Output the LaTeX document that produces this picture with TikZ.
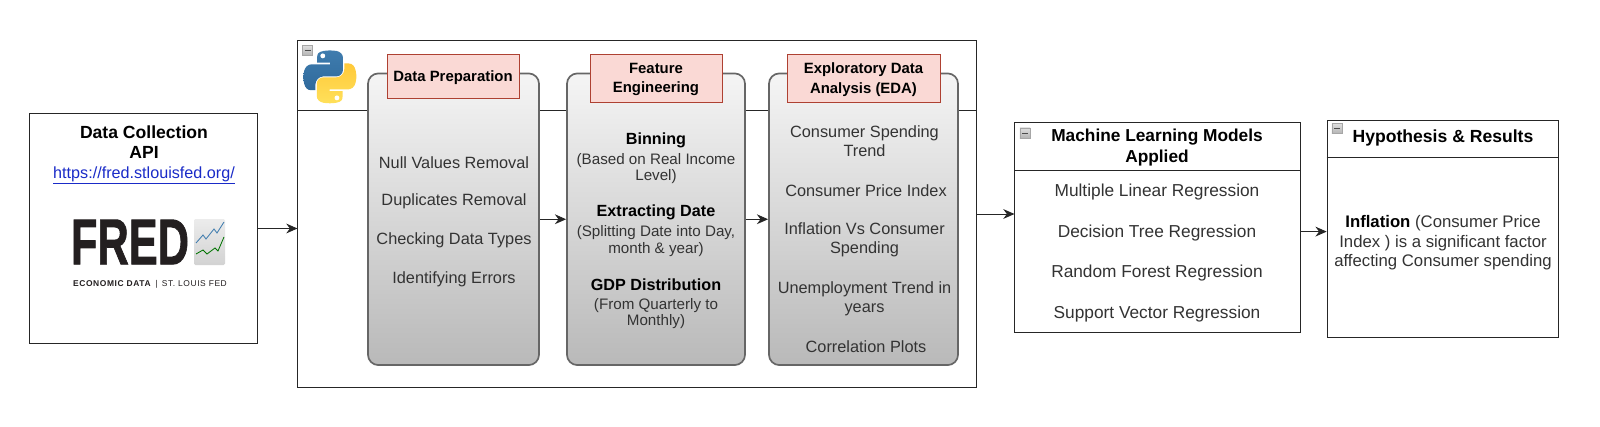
\documentclass[tikz,border=0pt]{standalone}
\usepackage{fontspec}
\setmainfont{Liberation Sans}
\usetikzlibrary{arrows.meta,shadings}
\definecolor{pinkfill}{HTML}{FAD9D5}
\definecolor{pinkline}{HTML}{AE4132}
\definecolor{panelline}{HTML}{666666}
\definecolor{bodytext}{HTML}{333333}
\definecolor{linkblue}{HTML}{1A2BC8}
\definecolor{pyblue}{HTML}{3F7CAE}
\definecolor{pyblued}{HTML}{2F6A9C}
\definecolor{pyyellow}{HTML}{FFE05A}
\definecolor{pyyellowd}{HTML}{FFC93A}
\definecolor{fredblack}{HTML}{231F20}
\newcommand{\pysnake}{(54.9,0.9) .. controls (50.3,0.9) and (45.9,1.3) .. (42.1,2) .. controls (30.9,4) and (28.9,8.1) .. (28.9,15.7) -- (28.9,25.8) -- (55.3,25.8) -- (55.3,29.2) -- (19,29.2) .. controls (11.3,29.2) and (4.6,33.8) .. (2.5,42.5) .. controls (0.1,52.5) and (0,58.7) .. (2.5,69.1) .. controls (4.4,76.9) and (8.8,82.4) .. (16.5,82.4) -- (25.5,82.4) -- (25.5,70.4) .. controls (25.5,61.7) and (33,54) .. (42.1,54) -- (68.5,54) .. controls (75.9,54) and (81.8,47.9) .. (81.8,40.5) -- (81.8,15.7) .. controls (81.8,8.6) and (75.8,3.3) .. (68.5,2) .. controls (64,1.3) and (59.3,0.9) .. (54.9,0.9) -- cycle}
\begin{document}
\begin{tikzpicture}[
  x=0.025cm, y=-0.025cm,
  box/.style={rectangle, draw=black!85, line width=0.7pt, fill=white, inner sep=0pt},
  panel/.style={rectangle, draw=panelline, line width=1.2pt, rounded corners=0.26cm, top color=gray!8, bottom color=gray!55, inner sep=0pt, minimum height=7.29cm},
  tag/.style={rectangle, draw=pinkline, line width=0.6pt, fill=pinkfill, inner sep=0pt, align=center, text depth=0pt, font=\fontsize{10.6}{13.7}\selectfont\bfseries},
  title/.style={align=center, inner sep=0pt, font=\fontsize{12.5}{14.4}\selectfont\bfseries},
  item/.style={align=center, inner sep=0pt, text=bodytext, font=\fontsize{11.6}{13.8}\selectfont},
  note/.style={align=center, inner sep=0pt, text=bodytext, font=\fontsize{10.8}{11.7}\selectfont},
  minus/.style={rectangle, draw=gray!70, line width=0.3pt, top color=gray!25, bottom color=gray!60, minimum size=0.26cm, inner sep=0pt},
  flow/.style={-{Stealth[length=8pt,width=7pt]}, line width=0.7pt, black!85}
]

% Data source
\node[box, minimum width=5.71cm, minimum height=5.725cm] (source) at (143.75,228.5) {};
\node[title] (source_t) at (144,142) {Data Collection\\API};
\node[item, text=linkblue, font=\fontsize{11.5}{13.8}\selectfont] (source_url) at (144,175.5) {\underline{https://fred.stlouisfed.org/}};

% FRED logo
\node[inner sep=0pt, text=fredblack, font=\fontsize{46}{46}\selectfont\bfseries] (fred) at (130,242) {\scalebox{0.67}[1]{\addfontfeatures{FakeBold=1.5}FRED}};
\shade[top color=gray!15, bottom color=gray!35, rounded corners=1pt] (194,219) rectangle (225,265);
\draw[line width=0.6pt, pyblue] (196,243) -- (203,235) -- (206,239) -- (214,229) -- (217,233) -- (224,222);
\draw[line width=0.6pt, green!45!black] (196,254) -- (203,250) -- (207,254) -- (215,248) -- (218,251) -- (224,237);
\node[inner sep=0pt, text=fredblack, font=\fontsize{6}{6}\selectfont] (fred_sub) at (150,284) {\addfontfeatures{LetterSpace=7}\textbf{ECONOMIC DATA}\enspace|\enspace ST. LOUIS FED};

% Python lane
\node[box, minimum width=16.96cm, minimum height=8.65cm] (lane) at (637.25,214) {};
\coordinate (lane_head) at (0,110);
\draw[line width=0.7pt, black!85] (lane.west |- lane_head) -- (lane.east |- lane_head);
\node[minus] (lane_min) at (307.5,50.5) {};
\draw[line width=0.7pt, black!70] (304.5,50.5) -- (310.5,50.5);
\begin{scope}[shift={(303,50)}, x=0.0122cm, y=-0.0122cm]
  \shade[top color=pyblue, bottom color=pyblued] \pysnake;
  \fill[white] (40.5,12) circle (5);
  \begin{scope}[shift={(110,110)}, rotate=180]
    \shade[top color=pyyellowd, bottom color=pyyellow] \pysnake;
    \fill[white] (40.5,12) circle (5);
  \end{scope}
\end{scope}

% Panels
\node[panel, minimum width=4.275cm] (prep) at (453.5,219.25) {};
\node[panel, minimum width=4.45cm] (feat) at (656,219.25) {};
\node[panel, minimum width=4.725cm] (eda) at (863.5,219.25) {};
\node[tag, minimum width=3.3cm, minimum height=1.1cm] (prep_t) at (453,76) {Data Preparation};
\node[tag, minimum width=3.3cm, minimum height=1.2cm] (feat_t) at (656,78) {Feature\\Engineering};
\node[tag, minimum width=3.825cm, minimum height=1.2cm] (eda_t) at (863.5,78) {Exploratory Data\\Analysis (EDA)};

% Data Preparation
\node[item] (prep_a) at (454,162.5) {Null Values Removal};
\node[item] (prep_b) at (454,201.5) {Duplicates Removal};
\node[item] (prep_c) at (454,240.5) {Checking Data Types};
\node[item] (prep_d) at (454,279.5) {Identifying Errors};

% Feature Engineering
\node[title, font=\fontsize{11.5}{14}\selectfont\bfseries] (feat_a) at (656,140) {Binning};
\node[note] (feat_a2) at (656,168.5) {(Based on Real Income\\Level)};
\node[title, font=\fontsize{11.5}{14}\selectfont\bfseries] (feat_b) at (656,212.5) {Extracting Date};
\node[note] (feat_b2) at (656,241) {(Splitting Date into Day,\\month \& year)};
\node[title, font=\fontsize{11.5}{14}\selectfont\bfseries] (feat_c) at (656,284.5) {GDP Distribution};
\node[note] (feat_c2) at (656,313.5) {(From Quarterly to\\Monthly)};

% EDA
\node[item] (eda_a) at (864.5,141) {Consumer Spending\\Trend};
\node[item] (eda_b) at (866,191) {Consumer Price Index};
\node[item] (eda_c) at (864.5,240) {Inflation Vs Consumer\\Spending};
\node[item] (eda_d) at (864.5,299) {Unemployment Trend in\\years};
\node[item] (eda_e) at (866,347) {Correlation Plots};

% Models
\node[box, minimum width=7.125cm, minimum height=5.26cm] (models) at (1157.5,227.75) {};
\coordinate (models_head) at (0,170.6);
\draw[line width=0.7pt, black!85] (models.west |- models_head) -- (models.east |- models_head);
\node[minus] (models_min) at (1025,133) {};
\draw[line width=0.7pt, black!70] (1022,133) -- (1028,133);
\node[title, font=\fontsize{12.3}{14.3}\selectfont\bfseries] (models_t) at (1157,147.5) {Machine Learning Models\\Applied};
\node[item, font=\fontsize{12.3}{13.8}\selectfont] (models_a) at (1157,192.5) {Multiple Linear Regression};
\node[item, font=\fontsize{12.3}{13.8}\selectfont] (models_b) at (1157,233.5) {Decision Tree Regression};
\node[item, font=\fontsize{12.3}{13.8}\selectfont] (models_c) at (1157,273) {Random Forest Regression};
\node[item, font=\fontsize{12.3}{13.8}\selectfont] (models_d) at (1157,314) {Support Vector Regression};

% Results
\node[box, minimum width=5.79cm, minimum height=5.44cm] (results) at (1443,229) {};
\coordinate (results_head) at (0,157);
\draw[line width=0.7pt, black!85] (results.west |- results_head) -- (results.east |- results_head);
\node[minus] (results_min) at (1337,128.5) {};
\draw[line width=0.7pt, black!70] (1334,128.5) -- (1340,128.5);
\node[title] (results_t) at (1443,138) {Hypothesis \& Results};
\node[item, font=\fontsize{11.9}{13.8}\selectfont] (results_b) at (1443,243) {\textcolor{black}{\textbf{Inflation}} (Consumer Price\\Index ) is a significant factor\\affecting Consumer spending};

% Arrows
\draw[flow] (source.east) -- (source.east -| lane.west);
\draw[flow] (prep.east) -- (feat.west);
\draw[flow] (feat.east) -- (eda.west);
\draw[flow] (lane.east) -- (lane.east -| models.west);
\coordinate (results_in) at (0,231.6);
\draw[flow] (models.east |- results_in) -- (results.west |- results_in);

\useasboundingbox (0,0) rectangle (1600,427);
\end{tikzpicture}
\end{document}
